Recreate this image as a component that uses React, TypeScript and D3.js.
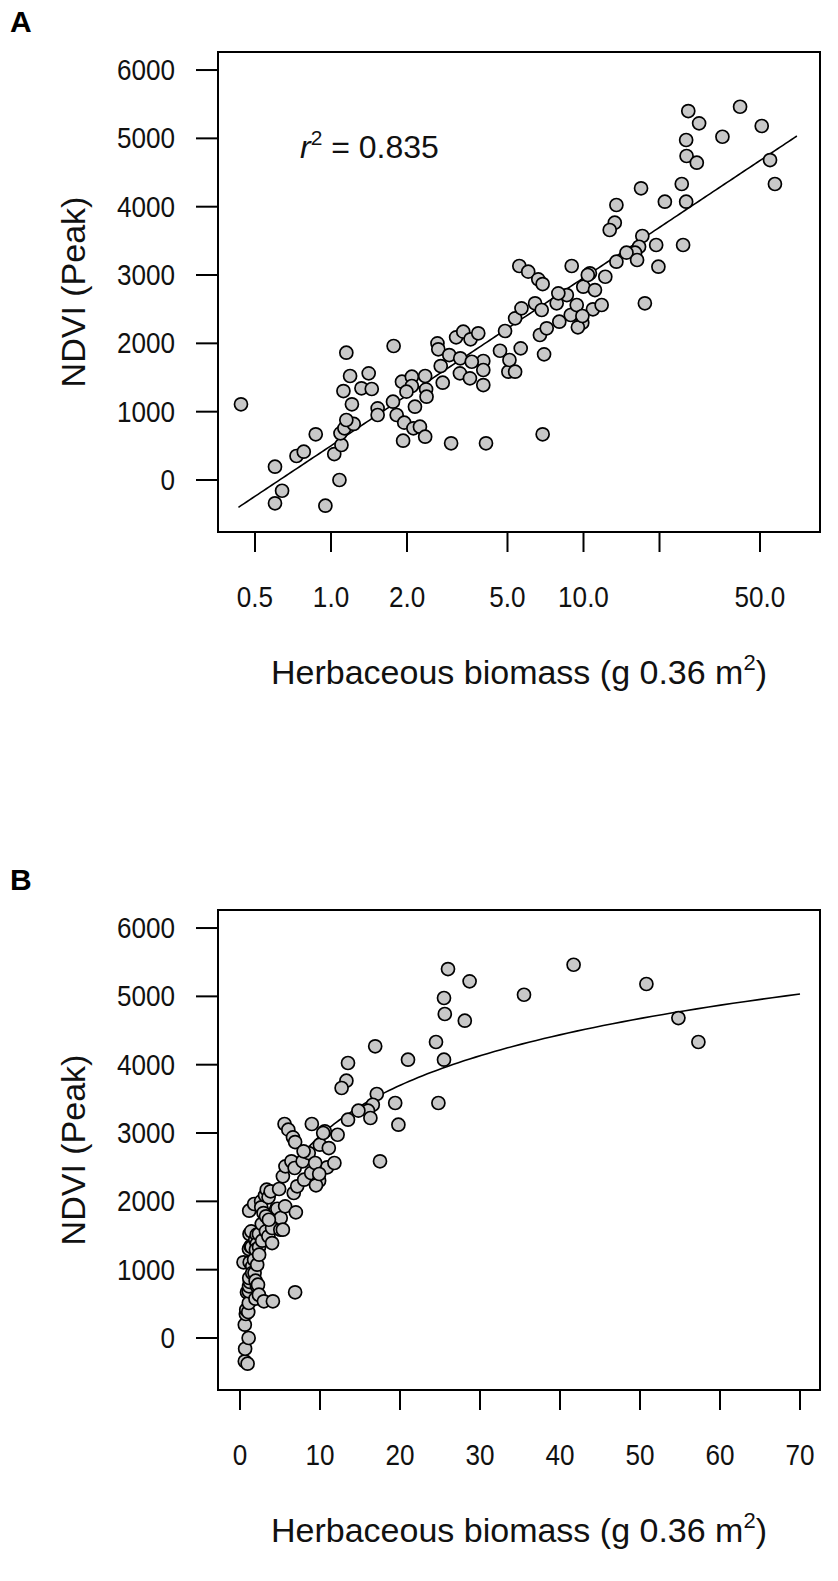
import React, { useRef, useEffect } from 'react';
import * as d3 from 'd3';

// biomass (g / 0.36 m2) and peak NDVI
const biomass = [
  0.44, 0.6, 0.6, 0.64, 0.73, 0.78, 0.87, 0.95, 1.03, 1.08, 1.1, 1.09, 1.13, 1.23, 1.15, 1.21, 1.12, 1.19, 1.15,
  1.32, 1.41, 1.45, 1.53, 1.53, 1.77, 1.76, 1.82, 1.93, 1.91, 2.09, 2.09, 1.99, 2.15, 1.95, 2.12, 2.25, 2.36, 2.38,
  2.39, 2.36, 2.64, 2.66, 2.77, 2.72, 2.94, 2.99, 3.13, 3.34, 3.24, 3.55, 3.57, 3.83, 4.01, 4.01, 4.01, 4.11, 4.67,
  4.89, 5.04, 5.09, 5.36, 5.64, 5.36, 5.68, 6.72, 7.15, 6.98, 6.89, 8.02, 8.9, 9.89, 9.5, 10.9, 3.25, 3.61, 6.43,
  6.83, 5.57, 6.04, 6.62, 6.89, 8.98, 11.8, 7.83, 8.59, 9.4, 9.98, 10.6, 11.1, 12.2, 13.5, 9.9, 10.4, 7.95,
  26.0, 28.7, 41.7, 50.8, 35.5, 25.5, 25.6, 28.1, 54.8, 57.3, 24.5, 25.5, 21.0, 16.9, 13.5, 13.3, 12.7, 17.1, 19.4,
  24.8, 19.8, 17.5, 16.6, 16.0, 14.8, 16.3,
];
const ndvi = [
  1108, 195, -341, -157, 351, 414, 669, -376, 380, 0, 512, 683, 756, 820, 878, 1108, 1302, 1522, 1863,
  1342, 1561, 1332, 1049, 951, 1961, 1146, 951, 575, 1439, 1512, 1376, 1293, 1073, 839, 756, 780, 634, 1327,
  1219, 1522, 2000, 1913, 1424, 1668, 1829, 537, 2088, 2171, 1561, 1488, 2059, 2147, 1742, 1390, 1610, 537, 1892,
  2181, 1585, 1756, 1585, 1927, 2366, 2512, 2122, 2220, 1839, 669, 2317, 2415, 2302, 2235, 2498, 1781, 1731, 2586,
  2488, 3132, 3049, 2937, 2868, 3132, 2561, 2586, 2707, 2561, 2829, 3025, 2780, 2975, 3195, 2400, 3000, 2732,
  5400, 5220, 5463, 5181, 5024, 4976, 4742, 4644, 4683, 4332, 4332, 4073, 4073, 4269, 4025, 3766, 3659, 3571, 3439,
  3439, 3122, 2586, 3414, 3327, 3327, 3220,
];

// fitted model: NDVI = a + b * log10(biomass)
const fitIntercept = 501;
const fitSlope = 2457;
const fitRange = [0.43, 70];

const yTicks = [0, 1000, 2000, 3000, 4000, 5000, 6000];
const logTicks = [0.5, 1, 2, 5, 10, 20, 50];
const logTickLabels = ['0.5', '1.0', '2.0', '5.0', '10.0', '', '50.0'];
const linTicks = [0, 10, 20, 30, 40, 50, 60, 70];
const linTickLabels = ['0', '10', '20', '30', '40', '50', '60', '70'];

const FONT = "'Liberation Sans', Arial, sans-serif";

const App = () => {
  const svgRef = useRef<SVGSVGElement>(null);

  useEffect(() => {
    if (!svgRef.current) return;
    const svg = d3.select(svgRef.current);
    svg.selectAll('*').remove();

    const width = 838;
    const height = 1581;
    svg.attr('width', width).attr('height', height).style('background', '#fff');

    const left = 218;
    const right = 820;
    const boxH = 480;

    const data = biomass.map((b, i) => ({ x: b, y: ndvi[i] }));
    const fitXs = d3.range(0, 201).map(i => fitRange[0] * Math.pow(fitRange[1] / fitRange[0], i / 200));
    const fitData = fitXs.map(x => ({ x, y: fitIntercept + fitSlope * Math.log10(x) }));

    // tick labels are slightly condensed in the original
    const tickLabel = (g: any, x: number, y: number, anchor: string, txt: string) => {
      g.append('text')
        .attr('transform', `translate(${x},${y}) scale(0.9,1)`)
        .attr('text-anchor', anchor)
        .attr('font-family', FONT)
        .attr('font-size', 29)
        .attr('fill', '#111')
        .text(txt);
    };

    const drawPanel = (
      top: number,
      letter: string,
      xScale: any,
      ticks: number[],
      tickLabels: string[],
      showR2: boolean
    ) => {
      const bottom = top + boxH;
      const yScale = d3.scaleLinear().domain([-761, 6264]).range([bottom, top]);
      const g = svg.append('g');

      // panel letter
      g.append('text')
        .attr('x', 10)
        .attr('y', top - 20)
        .attr('font-family', FONT)
        .attr('font-weight', 'bold')
        .attr('font-size', 30)
        .attr('fill', '#000')
        .text(letter);

      // y axis
      yTicks.forEach(t => {
        const y = yScale(t);
        g.append('line')
          .attr('x1', left - 22).attr('x2', left)
          .attr('y1', y).attr('y2', y)
          .attr('stroke', '#000').attr('stroke-width', 2);
        tickLabel(g, 175, y + 10, 'end', t.toString());
      });

      // x axis
      ticks.forEach((t, i) => {
        const x = xScale(t);
        g.append('line')
          .attr('x1', x).attr('x2', x)
          .attr('y1', bottom).attr('y2', bottom + 20)
          .attr('stroke', '#000').attr('stroke-width', 2);
        if (tickLabels[i]) tickLabel(g, x, bottom + 75, 'middle', tickLabels[i]);
      });

      // axis titles
      const xt = g.append('text')
        .attr('x', (left + right) / 2)
        .attr('y', bottom + 152)
        .attr('text-anchor', 'middle')
        .attr('font-family', FONT)
        .attr('font-size', 34)
        .attr('fill', '#111');
      xt.append('tspan').text('Herbaceous biomass (g 0.36 m');
      xt.append('tspan').attr('font-size', 22).attr('dy', -14).text('2');
      xt.append('tspan').attr('dy', 14).text(')');

      g.append('text')
        .attr('transform', `translate(85,${(top + bottom) / 2}) rotate(-90)`)
        .attr('text-anchor', 'middle')
        .attr('font-family', FONT)
        .attr('font-size', 34)
        .attr('fill', '#111')
        .text('NDVI (Peak)');

      // fitted line
      const line = d3.line<{ x: number; y: number }>()
        .x(d => xScale(d.x))
        .y(d => yScale(d.y));
      g.append('path')
        .datum(fitData)
        .attr('fill', 'none')
        .attr('stroke', '#000')
        .attr('stroke-width', 1.6)
        .attr('d', line);

      // points
      g.selectAll('.dot')
        .data(data)
        .enter()
        .append('circle')
        .attr('class', 'dot')
        .attr('cx', d => xScale(d.x))
        .attr('cy', d => yScale(d.y))
        .attr('r', 6.5)
        .attr('fill', '#c8c8c8')
        .attr('stroke', '#000')
        .attr('stroke-width', 1.7);

      // box
      g.append('rect')
        .attr('x', left)
        .attr('y', top)
        .attr('width', right - left)
        .attr('height', boxH)
        .attr('fill', 'none')
        .attr('stroke', '#000')
        .attr('stroke-width', 2);

      if (showR2) {
        const rt = g.append('text')
          .attr('x', 300)
          .attr('y', top + 106)
          .attr('font-family', FONT)
          .attr('font-size', 32)
          .attr('fill', '#111');
        rt.append('tspan').attr('font-style', 'italic').text('r');
        rt.append('tspan').attr('font-size', 21).attr('dy', -13).text('2');
        rt.append('tspan').attr('dy', 13).text(' = 0.835');
      }
    };

    // panel A: log x
    const xLog = d3.scaleLog().domain([0.3568, 86.43]).range([left, right]);
    drawPanel(52, 'A', xLog, logTicks, logTickLabels, true);

    // panel B: linear x
    const xLin = d3.scaleLinear().domain([-2.75, 72.5]).range([left, right]);
    drawPanel(910, 'B', xLin, linTicks, linTickLabels, false);
  }, []);

  return (
    <div style={{ position: 'absolute', left: 0, top: 0 }}>
      <svg ref={svgRef} style={{ display: 'block' }}></svg>
    </div>
  );
};

export default App;
